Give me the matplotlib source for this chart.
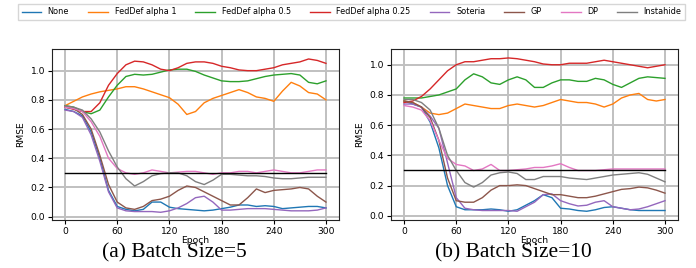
import matplotlib
matplotlib.use("Agg")
import matplotlib.pyplot as plt

epochs = list(range(0, 301, 10))
labels = ["None", "FedDef alpha 1", "FedDef alpha 0.5", "FedDef alpha 0.25",
          "Soteria", "GP", "DP", "Instahide"]

# batch size 5
none_a = [0.735, 0.72, 0.69, 0.58, 0.40, 0.18, 0.07, 0.05, 0.04, 0.05, 0.10, 0.10, 0.065, 0.055, 0.05, 0.045,
          0.04, 0.045, 0.055, 0.065, 0.08, 0.08, 0.07, 0.075, 0.07, 0.055, 0.06, 0.065, 0.07, 0.07, 0.06]
fed1_a = [0.76, 0.79, 0.82, 0.84, 0.855, 0.865, 0.875, 0.89, 0.89, 0.875, 0.855, 0.835, 0.815, 0.77, 0.70, 0.72,
          0.78, 0.81, 0.83, 0.85, 0.87, 0.85, 0.82, 0.81, 0.79, 0.86, 0.92, 0.895, 0.85, 0.84, 0.80]
fed05_a = [0.76, 0.75, 0.72, 0.705, 0.73, 0.82, 0.90, 0.96, 0.975, 0.97, 0.975, 0.99, 1.005, 1.01, 1.01, 0.995,
           0.97, 0.95, 0.93, 0.925, 0.925, 0.93, 0.945, 0.96, 0.97, 0.975, 0.98, 0.97, 0.92, 0.91, 0.93]
fed025_a = [0.75, 0.735, 0.72, 0.72, 0.78, 0.90, 0.98, 1.04, 1.065, 1.06, 1.04, 1.01, 1.0, 1.02, 1.05, 1.06,
            1.06, 1.05, 1.03, 1.02, 1.005, 1.0, 1.0, 1.01, 1.02, 1.04, 1.05, 1.06, 1.08, 1.07, 1.05]
soteria_a = [0.73, 0.72, 0.68, 0.56, 0.38, 0.17, 0.06, 0.04, 0.035, 0.035, 0.035, 0.03, 0.04, 0.06, 0.09, 0.13,
             0.14, 0.10, 0.045, 0.045, 0.05, 0.055, 0.055, 0.055, 0.05, 0.045, 0.04, 0.04, 0.04, 0.045, 0.06]
gp_a = [0.75, 0.74, 0.70, 0.60, 0.42, 0.22, 0.10, 0.06, 0.05, 0.07, 0.11, 0.12, 0.14, 0.18, 0.21, 0.20,
        0.17, 0.14, 0.11, 0.08, 0.08, 0.13, 0.19, 0.165, 0.18, 0.185, 0.19, 0.20, 0.19, 0.14, 0.10]
dp_a = [0.75, 0.74, 0.72, 0.65, 0.55, 0.40, 0.33, 0.30, 0.29, 0.30, 0.32, 0.31, 0.30, 0.305, 0.31, 0.31,
        0.30, 0.29, 0.30, 0.30, 0.31, 0.31, 0.30, 0.31, 0.32, 0.31, 0.30, 0.30, 0.31, 0.32, 0.32]
insta_a = [0.76, 0.75, 0.73, 0.67, 0.58, 0.45, 0.34, 0.26, 0.21, 0.24, 0.28, 0.295, 0.30, 0.30, 0.28, 0.24,
           0.22, 0.25, 0.29, 0.29, 0.285, 0.28, 0.28, 0.275, 0.265, 0.26, 0.26, 0.265, 0.27, 0.27, 0.27]

# batch size 10
none_b = [0.76, 0.74, 0.72, 0.62, 0.45, 0.20, 0.06, 0.04, 0.04, 0.04, 0.045, 0.04, 0.03, 0.04, 0.07, 0.10,
          0.14, 0.12, 0.05, 0.045, 0.035, 0.03, 0.04, 0.055, 0.06, 0.05, 0.04, 0.035, 0.035, 0.035, 0.035]
fed1_b = [0.76, 0.75, 0.72, 0.68, 0.67, 0.68, 0.71, 0.74, 0.73, 0.72, 0.71, 0.71, 0.73, 0.74, 0.73, 0.72,
          0.73, 0.75, 0.77, 0.76, 0.75, 0.75, 0.74, 0.72, 0.74, 0.78, 0.80, 0.81, 0.77, 0.76, 0.77]
fed05_b = [0.78, 0.78, 0.78, 0.79, 0.80, 0.82, 0.84, 0.90, 0.94, 0.92, 0.88, 0.87, 0.90, 0.92, 0.90, 0.85,
           0.85, 0.88, 0.90, 0.90, 0.89, 0.89, 0.91, 0.90, 0.87, 0.85, 0.88, 0.91, 0.92, 0.915, 0.91]
fed025_b = [0.75, 0.76, 0.79, 0.84, 0.90, 0.96, 1.00, 1.02, 1.02, 1.03, 1.04, 1.04, 1.045, 1.04, 1.03, 1.02,
            1.005, 1.0, 1.0, 1.01, 1.01, 1.01, 1.02, 1.03, 1.02, 1.01, 1.0, 0.99, 0.98, 0.99, 1.0]
soteria_b = [0.74, 0.74, 0.72, 0.66, 0.58, 0.35, 0.12, 0.05, 0.04, 0.035, 0.035, 0.035, 0.035, 0.03, 0.06, 0.09,
             0.14, 0.145, 0.10, 0.08, 0.065, 0.07, 0.09, 0.10, 0.06, 0.05, 0.04, 0.045, 0.06, 0.08, 0.10]
gp_b = [0.76, 0.75, 0.72, 0.65, 0.50, 0.25, 0.10, 0.09, 0.09, 0.12, 0.17, 0.20, 0.20, 0.205, 0.20, 0.18,
        0.16, 0.14, 0.14, 0.13, 0.12, 0.12, 0.13, 0.145, 0.16, 0.175, 0.18, 0.19, 0.185, 0.17, 0.15]
dp_b = [0.73, 0.72, 0.70, 0.63, 0.50, 0.38, 0.34, 0.33, 0.30, 0.31, 0.34, 0.30, 0.30, 0.305, 0.31, 0.32,
        0.32, 0.33, 0.345, 0.32, 0.30, 0.30, 0.30, 0.305, 0.31, 0.31, 0.31, 0.31, 0.31, 0.31, 0.31]
insta_b = [0.77, 0.77, 0.75, 0.70, 0.58, 0.40, 0.30, 0.22, 0.19, 0.22, 0.27, 0.285, 0.29, 0.28, 0.24, 0.24,
           0.26, 0.26, 0.26, 0.25, 0.245, 0.24, 0.25, 0.26, 0.27, 0.275, 0.28, 0.285, 0.275, 0.25, 0.225]

threshold = 0.3
series_a = [none_a, fed1_a, fed05_a, fed025_a, soteria_a, gp_a, dp_a, insta_a]
series_b = [none_b, fed1_b, fed05_b, fed025_b, soteria_b, gp_b, dp_b, insta_b]
captions = ["(a) Batch Size=5", "(b) Batch Size=10"]

fig = plt.figure(figsize=(6.96, 2.68), dpi=100)
ax1 = fig.add_axes([0.0747, 0.179, 0.4124, 0.638])
ax2 = fig.add_axes([0.5618, 0.179, 0.4124, 0.638])

for ax, series, ylim, cap, cx in [(ax1, series_a, (-0.023, 1.148), captions[0], 0.25),
                                  (ax2, series_b, (-0.028, 1.104), captions[1], 0.738)]:
    for vals, lab in zip(series, labels):
        ax.plot(epochs, vals, lw=1.0, label=lab)
    ax.plot([epochs[0], epochs[-1]], [threshold, threshold], color="black", lw=1.0)
    ax.set_xlim(-15, 315)
    ax.set_ylim(*ylim)
    ax.set_xticks(range(0, 301, 60))
    ax.set_yticks([0.0, 0.2, 0.4, 0.6, 0.8, 1.0])
    ax.tick_params(labelsize=6.6, length=3, pad=2)
    ax.grid(True, color="#c0c0c0", lw=1.4)
    ax.set_xlabel("Epoch", fontsize=6.6, labelpad=0)
    ax.set_ylabel("RMSE", fontsize=6.6, labelpad=4)
    for s in ax.spines.values():
        s.set_color("#222222")
    fig.text(cx, 0.058, cap, ha="center", va="center", fontsize=15.5, family="Liberation Serif")

handles, labs = ax1.get_legend_handles_labels()
fig.legend(handles[:8], labs[:8], loc="upper center", bbox_to_anchor=(0.505, 1.0), ncol=8,
           fontsize=5.9, frameon=True, handlelength=2.4, handletextpad=0.8, columnspacing=2.35,
           borderpad=0.4, fancybox=False, edgecolor="#cccccc")

fig.savefig("out.png", dpi=100)
